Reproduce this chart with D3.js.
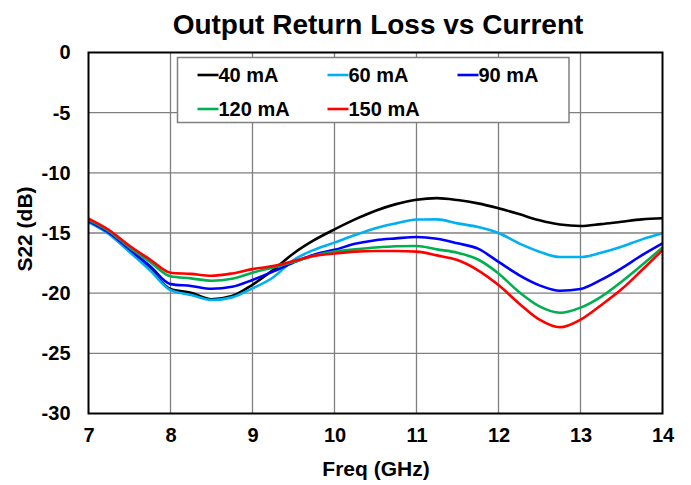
<!DOCTYPE html>
<html><head><meta charset="utf-8">
<script src="https://cdn.jsdelivr.net/npm/d3@7/dist/d3.min.js"></script>
<style>body{margin:0;background:#fff}svg{display:block}text{font-family:"Liberation Sans",Arial,sans-serif;font-weight:bold;fill:#000}</style>
</head><body><svg id="c" width="691" height="485"></svg>
<script>
const freq = [7,7.25,7.5,7.75,8,8.25,8.5,8.75,9,9.25,9.5,9.75,10,10.25,10.5,10.75,11,11.25,11.5,11.75,12,12.25,12.5,12.75,13,13.25,13.5,13.75,14];
const s40  = [-14.05,-15.03,-16.5,-18.0,-19.66,-19.96,-20.5,-20.24,-19.3,-18.08,-16.7,-15.6,-14.7,-13.87,-13.15,-12.6,-12.23,-12.1,-12.26,-12.54,-12.95,-13.43,-13.95,-14.3,-14.42,-14.26,-14.06,-13.87,-13.78];
const s60  = [-14.1,-15.1,-16.58,-18.1,-19.75,-20.15,-20.57,-20.35,-19.6,-18.7,-17.25,-16.4,-15.8,-15.17,-14.6,-14.2,-13.88,-13.87,-14.2,-14.5,-15.0,-15.86,-16.55,-17.0,-17.0,-16.64,-16.14,-15.53,-15.03];
const s90  = [-14.0,-14.97,-16.36,-17.75,-19.25,-19.4,-19.63,-19.47,-18.9,-18.2,-17.45,-16.8,-16.4,-15.9,-15.6,-15.45,-15.33,-15.48,-15.86,-16.3,-17.4,-18.5,-19.35,-19.8,-19.65,-18.9,-17.94,-16.84,-15.86];
const s120 = [-13.9,-14.84,-16.2,-17.4,-18.6,-18.77,-18.97,-18.8,-18.3,-17.86,-17.4,-16.9,-16.55,-16.36,-16.2,-16.1,-16.08,-16.36,-16.64,-17.2,-18.36,-19.9,-21.1,-21.63,-21.2,-20.3,-19.05,-17.66,-16.2];
const s150 = [-13.8,-14.75,-16.06,-17.2,-18.3,-18.4,-18.55,-18.36,-18.0,-17.75,-17.33,-16.9,-16.7,-16.55,-16.5,-16.5,-16.55,-16.86,-17.25,-18.1,-19.33,-20.85,-22.2,-22.83,-22.2,-21.0,-19.68,-18.08,-16.42];
const seriesNames = ["40 mA","60 mA","90 mA","120 mA","150 mA"];
const seriesColors = ["#000000","#00B0F0","#0000FF","#00B050","#FF0000"];
const xTicks = [7,8,9,10,11,12,13,14];
const yTicks = [0,-5,-10,-15,-20,-25,-30];
const seriesData = [s40,s60,s90,s120,s150];

const svg = d3.select("#c");
const L=88.5, R=662.5, T=52.5, B=413.5;
const x = d3.scaleLinear().domain([7,14]).range([L,R]);
const y = d3.scaleLinear().domain([-30,0]).range([B,T]);

// grid
svg.append("g").selectAll("line").data(xTicks.slice(1,-1)).join("line")
  .attr("x1",d=>x(d)).attr("x2",d=>x(d)).attr("y1",T).attr("y2",B)
  .attr("stroke","#7f7f7f").attr("stroke-width",1.3);
svg.append("g").selectAll("line").data(yTicks.slice(1,-1)).join("line")
  .attr("y1",d=>y(d)).attr("y2",d=>y(d)).attr("x1",L).attr("x2",R)
  .attr("stroke","#7f7f7f").attr("stroke-width",1.3);

// axes (labels only)
const xAxis = svg.append("g").attr("transform",`translate(0,${B})`)
  .call(d3.axisBottom(x).tickValues(xTicks).tickSize(0).tickPadding(14).tickFormat(d=>String(d)));
xAxis.select(".domain").remove();
xAxis.selectAll("text").attr("font-size",20).style("font-family","'Liberation Sans',Arial,sans-serif").style("font-weight","bold");
const yAxis = svg.append("g").attr("transform",`translate(${L},0)`)
  .call(d3.axisLeft(y).tickValues(yTicks).tickSize(0).tickPadding(18).tickFormat(d=>String(d)));
yAxis.select(".domain").remove();
yAxis.selectAll("text").attr("font-size",20).style("font-family","'Liberation Sans',Arial,sans-serif").style("font-weight","bold");

// lines
const line = d3.line().x((d,i)=>x(freq[i])).y(d=>y(d)).curve(d3.curveMonotoneX);
svg.append("g").selectAll("path").data(seriesData).join("path")
  .attr("d",line).attr("fill","none").attr("stroke",(d,i)=>seriesColors[i])
  .attr("stroke-width",2.6).attr("stroke-linejoin","round");

// border
svg.append("rect").attr("x",L).attr("y",T).attr("width",R-L).attr("height",B-T)
  .attr("fill","none").attr("stroke","#000").attr("stroke-width",2);

// legend
const lg = svg.append("g");
lg.append("rect").attr("x",177.5).attr("y",57.5).attr("width",391.5).attr("height",65)
  .attr("fill","#fff").attr("stroke","#808080").attr("stroke-width",1.5);
const legPos = [[197.5,75],[327.5,75],[457.5,75],[197.5,109],[327.5,109]];
seriesNames.forEach((n,i)=>{
  const [lx,ly]=legPos[i];
  lg.append("line").attr("x1",lx).attr("x2",lx+21).attr("y1",ly).attr("y2",ly)
    .attr("stroke",seriesColors[i]).attr("stroke-width",2.6);
  lg.append("text").attr("x",lx+21).attr("y",ly).attr("dy","0.36em").attr("font-size",20).text(n);
});

// titles
svg.append("text").attr("x",378).attr("y",34).attr("text-anchor","middle").attr("font-size",28).text("Output Return Loss vs Current");
svg.append("text").attr("x",376).attr("y",476).attr("text-anchor","middle").attr("font-size",21).text("Freq (GHz)");
svg.append("text").attr("transform","translate(32,229) rotate(-90)").attr("text-anchor","middle").attr("font-size",21).text("S22 (dB)");
</script></body></html>
